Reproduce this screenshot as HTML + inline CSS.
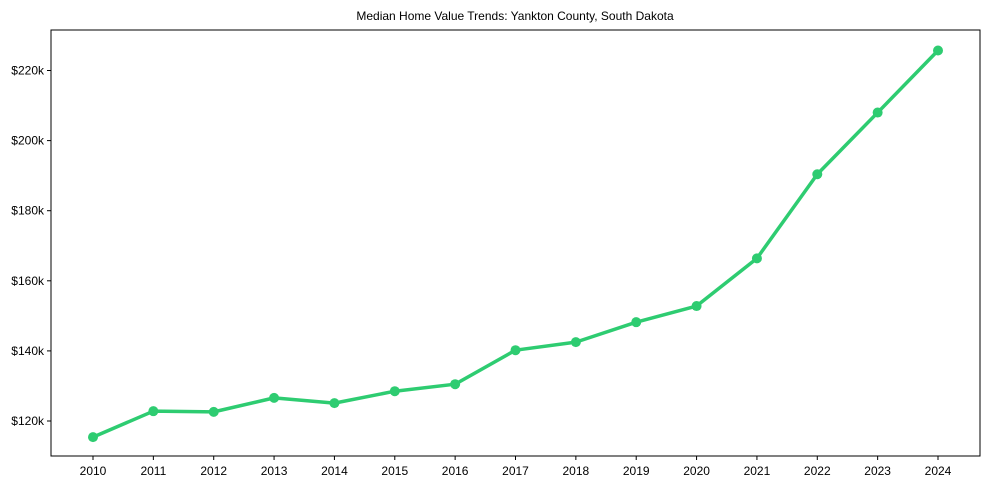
<!DOCTYPE html>
<html><head><meta charset="utf-8"><style>
body{margin:0;background:#fff;}
svg text{font-family:"Liberation Sans",sans-serif;font-size:12px;fill:#000;}
</style></head><body>
<svg id="chart" width="989" height="490">
<text x="515" y="20" text-anchor="middle">Median Home Value Trends: Yankton County, South Dakota</text>
<g id="grid"></g>
<rect x="51" y="30" width="929" height="426" fill="none" stroke="#000" stroke-width="1"/>
</svg>
<script>
const years = [2010,2011,2012,2013,2014,2015,2016,2017,2018,2019,2020,2021,2022,2023,2024];
const values = [115.4,122.8,122.6,126.6,125.1,128.5,130.5,140.2,142.5,148.2,152.8,166.4,190.4,208.0,225.7];
const yTicks = [120,140,160,180,200,220];
const svg = document.getElementById('chart');
const NS = 'http://www.w3.org/2000/svg';
const xS = y => 93 + (y - 2010) * (938 - 93) / 14;
const yS = v => 421 - (v - 120) * 3.505;
function mk(tag, attrs){const e=document.createElementNS(NS,tag);for(const k in attrs)e.setAttribute(k,attrs[k]);svg.appendChild(e);return e;}
yTicks.forEach(t=>{
  const y=yS(t);
  const l=mk('line',{x1:47,x2:51,y1:y,y2:y,stroke:'#000'});
  
  
  const tx=mk('text',{x:44,y:y+4,'text-anchor':'end'});
  tx.textContent='$'+t+'k';
  
  
});
years.forEach(yr=>{
  const x=xS(yr);
  const l=mk('line',{x1:x,x2:x,y1:456,y2:460,stroke:'#000'});
  
  
  const tx=mk('text',{x:x,y:475,'text-anchor':'middle'});
  tx.textContent=yr;
  
  
});
const pts=years.map((yr,i)=>xS(yr)+','+yS(values[i])).join(' ');
const line=mk('polyline',{points:pts,fill:'none',stroke:'#2ecc71','stroke-width':3.5,'stroke-linejoin':'round'});


years.forEach((yr,i)=>{
  const c=mk('circle',{cx:xS(yr),cy:yS(values[i]),r:5,fill:'#2ecc71'});
  
  
});
</script>
</body></html>
